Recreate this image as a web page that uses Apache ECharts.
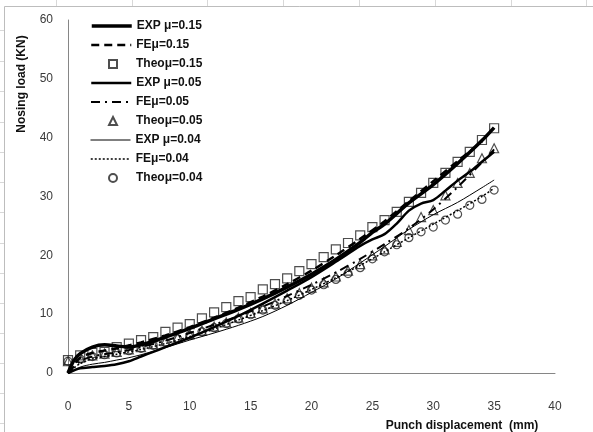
<!DOCTYPE html>
<html><head><meta charset="utf-8">
<script src="https://cdn.jsdelivr.net/npm/echarts@6/dist/echarts.min.js"></script>
<style>html,body{margin:0;padding:0;background:#fff}#c{width:593px;height:432px}</style>
</head><body><div id="c"></div>
<script>
// ---- data ----
var seriesNames = ["EXP μ=0.15","FEμ=0.15","Theoμ=0.15","EXP μ=0.05","FEμ=0.05","Theoμ=0.05","EXP μ=0.04","FEμ=0.04","Theoμ=0.04"];
var xTicks = [0,5,10,15,20,25,30,35,40];
var yTicks = [0,10,20,30,40,50,60];

var exp015X = [0,0.5,1,2,3,4,5,6,7,8,10,12,14,16,18,20,22,24,25,26,28,30,32,34,35];
var exp015Y = [0,2.2,3.3,4.4,4.8,4.6,4.4,4.8,5.4,6.1,7.6,9.2,10.8,12.6,14.6,16.8,19.3,22.2,23.9,25.3,28.9,32.0,35.6,39.5,41.7];

var fe015X = [0,1,2,3,4,5,6,8,10,12,14,16,18,20,22,24,26,28,30,32,34];
var fe015Y = [0,2.6,3.4,3.8,4.2,4.7,5.2,6.4,7.8,9.4,11.1,13.0,15.1,17.4,20.0,22.8,25.8,29.2,32.6,36.0,39.3];

var theoX = [0,1,2,3,4,5,6,7,8,9,10,11,12,13,14,15,16,17,18,19,20,21,22,23,24,25,26,27,28,29,30,31,32,33,34,35];
var theo015Y = [2.2,3.0,3.4,3.6,4.4,5.0,5.6,6.1,7.0,7.7,8.3,9.3,10.3,11.2,12.2,12.9,14.2,15.1,16.1,17.3,18.5,19.7,21.0,22.1,23.4,24.8,26.0,27.4,29.1,30.6,32.3,34.0,35.9,37.6,39.6,41.6];

var exp005X = [0,1,2,3,4,5,6,7,8,10,12,14,16,18,20,22,24,25,26,27,28,29,30,31,32,33,34,35];
var exp005Y = [0,0.8,1.0,1.2,1.5,2.0,2.8,3.6,4.4,6.0,7.8,9.7,11.8,14.0,16.3,18.9,21.6,22.7,23.6,25.4,27.6,28.8,29.4,31.0,32.7,34.2,35.9,37.6];

var fe005X = [0,1,2,3,4,5,6,8,10,12,14,16,18,20,22,24,26,28,30,32,34,35];
var fe005Y = [0,2.0,2.8,3.2,3.5,3.9,4.4,5.5,6.8,8.2,9.7,11.3,13.1,15.0,17.1,19.4,21.9,24.6,27.8,31.6,35.8,38.0];

var theo005Y = [2.0,2.6,3.0,3.3,3.6,4.0,4.4,4.9,5.4,6.0,6.6,7.2,7.9,8.6,9.4,10.2,11.0,11.8,12.7,13.6,14.5,15.4,16.4,17.4,18.5,20.0,21.0,22.3,24.3,26.5,27.7,30.2,32.3,34.0,36.5,38.2];

var exp004X = [0,1,2,3,4,5,6,7,8,10,12,14,16,18,20,22,24,26,28,30,32,34,35];
var exp004Y = [0,1.0,1.5,1.8,2.2,2.6,3.1,3.7,4.3,5.6,6.8,8.1,9.6,11.5,13.7,16.0,18.7,21.5,24.4,26.9,29.0,31.5,32.8];

var fe004X = [0,1,2,3,4,6,8,10,12,14,16,18,20,22,24,26,28,30,32,34,35];
var fe004Y = [0,1.6,2.4,2.8,3.2,4.0,5.0,6.2,7.5,9.0,10.6,12.3,14.2,16.2,18.3,20.6,23.0,25.3,27.6,30.0,31.4];

var theo004Y = [2.0,2.4,2.8,3.1,3.4,3.8,4.2,4.7,5.2,5.8,6.4,7.0,7.7,8.4,9.2,9.9,10.7,11.5,12.3,13.2,14.1,15.0,15.9,16.9,17.9,19.4,20.6,21.8,23.0,24.0,24.8,26.0,27.0,28.5,29.5,31.1];

// ---- build ----
function pairs(xs, ys){ return xs.map(function(x,i){ return [x, ys[i]]; }); }
function lineS(name, xs, ys, width, type){
  return {name:name, type:'line', data:pairs(xs,ys), symbol:'none', smooth:0.3,
    lineStyle:{color:'#000', width:width, type:type}, itemStyle:{color:'#000'}, z:3};
}
function scatS(name, ys, sym, size){
  return {name:name, type:'scatter', data:pairs(theoX,ys), symbol:sym, symbolSize:size,
    itemStyle:{color:'rgba(255,255,255,0)', borderColor:'#222', borderWidth:1.2}, z:2};
}

var font = '"Liberation Sans", Arial, sans-serif';
var chart = echarts.init(document.getElementById('c'), null, {renderer:'canvas'});

var gfx = [
  {type:'rect', shape:{x:4.5,y:6.5,width:700,height:500}, style:{fill:'none', stroke:'#bdbdbd', lineWidth:1}, silent:true},
  {type:'text', x:22, y:84, rotation:Math.PI/2, style:{text:'Nosing load (KN)', font:'bold 12px '+font, fill:'#111', align:'center', verticalAlign:'middle'}},
  {type:'text', x:462, y:426, style:{text:'Punch displacement  (mm)', font:'bold 12px '+font, fill:'#111', align:'center', verticalAlign:'middle'}}
];
[56,132,207,283,359,435,511,586].forEach(function(x){
  gfx.push({type:'line', shape:{x1:x+0.5,y1:0,x2:x+0.5,y2:6}, style:{stroke:'#d8d8d8', lineWidth:1}, silent:true});
});
[30,61,91,122,152,182,212,243,273,303,333,363,393,423].forEach(function(y){
  gfx.push({type:'line', shape:{x1:0,y1:y+0.5,x2:4,y2:y+0.5}, style:{stroke:'#d8d8d8', lineWidth:1}, silent:true});
});

var isScatter = [false,false,true,false,false,true,false,false,true];
var legendWidths = [3.5,2.5,1,2.5,2,1,1,1.5,1];
var legends = seriesNames.map(function(n, i){
  var center = 26 + 19*i;
  var base = {orient:'vertical', padding:0, selectedMode:false, top:center-7,
    textStyle:{fontFamily:font, fontWeight:'bold', fontSize:12, color:'#111', lineHeight:14}};
  if (isScatter[i]) {
    base.left = 108; base.itemWidth = 8; base.itemHeight = 8;
    base.textStyle.padding = [0,0,0,14];
    base.data = [n];
  } else {
    base.left = 90; base.itemWidth = 40; base.itemHeight = 8;
    base.lineStyle = {width: legendWidths[i]};
    base.data = [{name:n, itemStyle:{color:'rgba(0,0,0,0)', borderColor:'rgba(0,0,0,0)', borderWidth:0, opacity:0}}];
  }
  return base;
});

chart.setOption({
  animation:false,
  backgroundColor:'#fff',
  grid:{left:68, right:38, top:20, bottom:59, containLabel:false},
  xAxis:{type:'value', min:0, max:40, interval:5,
    axisLine:{show:true, lineStyle:{color:'#868686', width:1}}, axisTick:{show:false}, splitLine:{show:false},
    axisLabel:{color:'#3a3a3a', fontSize:12, fontFamily:font, margin:28,
      formatter:function(v){ return xTicks.indexOf(v)>=0 ? String(v) : ''; }}},
  yAxis:{type:'value', min:0, max:60, interval:10,
    axisLine:{show:true, lineStyle:{color:'#868686', width:1}}, axisTick:{show:false}, splitLine:{show:false},
    axisLabel:{color:'#3a3a3a', fontSize:12, fontFamily:font, margin:15,
      formatter:function(v){ return yTicks.indexOf(v)>=0 ? String(v) : ''; }}},
  legend:legends,
  graphic:gfx,
  series:[
    lineS(seriesNames[0], exp015X, exp015Y, 3.5, 'solid'),
    lineS(seriesNames[1], fe015X, fe015Y, 2.5, [8,5]),
    scatS(seriesNames[2], theo015Y, 'rect', 9),
    lineS(seriesNames[3], exp005X, exp005Y, 2.5, 'solid'),
    lineS(seriesNames[4], fe005X, fe005Y, 2, [9,5,2,5]),
    scatS(seriesNames[5], theo005Y, 'triangle', 9),
    lineS(seriesNames[6], exp004X, exp004Y, 1, 'solid'),
    lineS(seriesNames[7], fe004X, fe004Y, 1.5, [2,2]),
    scatS(seriesNames[8], theo004Y, 'circle', 8)
  ]
});
</script></body></html>
